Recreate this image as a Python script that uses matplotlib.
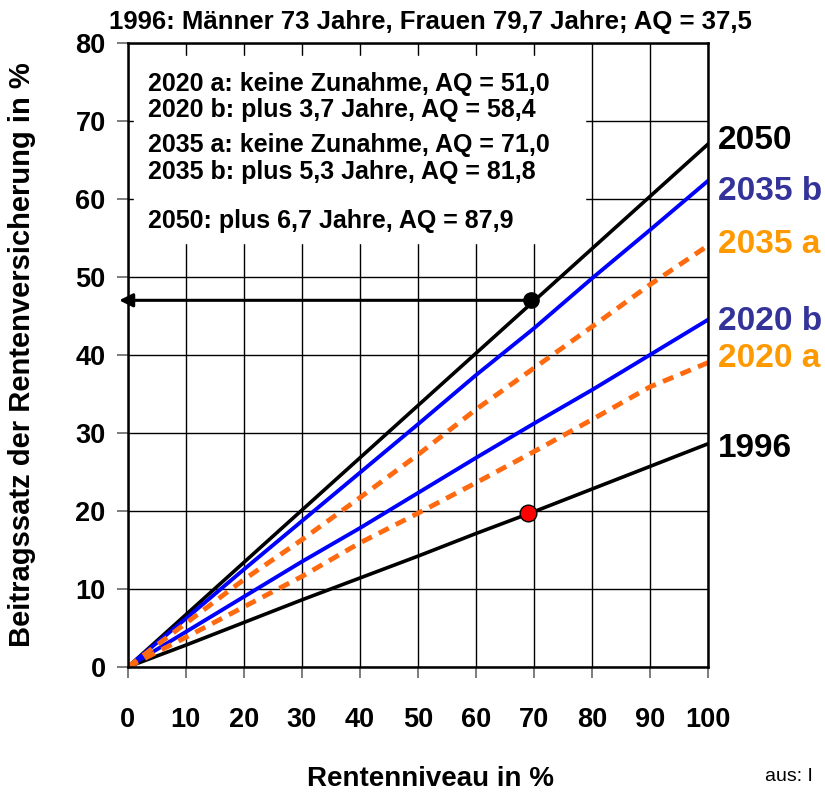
import numpy as np
import matplotlib
matplotlib.use('Agg')
import matplotlib.pyplot as plt

plt.rcParams['font.family'] = ['Liberation Sans', 'DejaVu Sans']

# Rentenniveau (x) und Beitragssatz (y) je Szenario
niveau = [0, 10, 20, 30, 40, 50, 60, 70, 80, 90, 100]
y_1996 = [0, 2.8, 5.7, 8.6, 11.4, 14.2, 17.1, 19.9, 22.8, 25.7, 28.6]
y_2020a = [0, 3.8, 7.7, 11.6, 15.9, 19.7, 23.6, 27.6, 31.7, 35.9, 39.0]
y_2020b = [0, 4.5, 9.0, 13.5, 17.8, 22.3, 26.8, 31.2, 35.5, 40.0, 44.5]
y_2035a = [0, 5.6, 11.2, 16.3, 21.7, 27.2, 33.0, 38.3, 43.6, 49.0, 54.0]
y_2035b = [0, 6.2, 12.5, 18.7, 24.9, 31.1, 37.4, 43.4, 49.8, 56.0, 62.3]
y_2050 = [0, 6.7, 13.4, 20.1, 26.8, 33.5, 40.2, 46.9, 53.6, 60.3, 67.0]

punkt_1996 = (69, 19.7)
punkt_2050 = (69.5, 47.0)

box_lines = ['2020 a: keine Zunahme, AQ = 51,0',
             '2020 b: plus 3,7 Jahre, AQ = 58,4',
             '2035 a: keine Zunahme, AQ = 71,0',
             '2035 b: plus 5,3 Jahre, AQ = 81,8',
             '2050: plus 6,7 Jahre, AQ = 87,9']
box_y = [74.7, 71.4, 66.9, 63.4, 57.2]

labels_right = ['2050', '2035 b', '2035 a', '2020 b', '2020 a', '1996']
labels_y = [67.5, 61.0, 54.1, 44.3, 39.5, 28.0]
labels_col = ['black', '#333399', '#FF9900', '#333399', '#FF9900', 'black']

fig = plt.figure(figsize=(8.25, 7.94), dpi=100)
ax = fig.add_axes([0.155, 0.160, 0.703, 0.786])

ax.set_xlim(0, 100)
ax.set_ylim(0, 80)
ax.set_xticks(np.arange(0, 101, 10))
ax.set_yticks(np.arange(0, 81, 10))
ax.set_axisbelow(True)
ax.grid(True, color='black', linewidth=1.0)
for s in ax.spines.values():
    s.set_linewidth(1.8)
    s.set_zorder(7)
ax.tick_params(axis='both', length=8, width=1.2, color='#666666', labelsize=19.5)
ax.tick_params(axis='x', pad=21)
ax.tick_params(axis='y', pad=8)
for t in ax.get_xticklabels() + ax.get_yticklabels():
    t.set_fontweight('bold')

# weisser Kasten fuer den Text
ax.fill_between([1, 78.8], 54.4, 78.3, color='white', zorder=1)

ax.plot(niveau, y_1996, color='black', lw=2.6, zorder=3)
ax.plot(niveau, y_2050, color='black', lw=2.6, zorder=3)
ax.plot(niveau, y_2035b, color='#0000FF', lw=2.8, zorder=3)
ax.plot(niveau, y_2020b, color='#0000FF', lw=2.8, zorder=3)
ax.plot(niveau, y_2035a, color='#FF6A10', lw=3.5, dashes=(2.3, 1.6), zorder=3)
ax.plot(niveau, y_2020a, color='#FF6A10', lw=3.5, dashes=(2.3, 1.6), zorder=3)

ax.annotate('', xy=(-1.5, punkt_2050[1]), xytext=punkt_2050,
            arrowprops=dict(arrowstyle='-|>', color='black', lw=2.2,
                            mutation_scale=20, shrinkA=0, shrinkB=0),
            annotation_clip=False, zorder=4)
ax.plot(*punkt_2050, 'o', color='black', ms=11, zorder=5)
ax.plot(*punkt_1996, 'o', color='red', mec='black', mew=1, ms=12, zorder=5)

for txt, yy in zip(box_lines, box_y):
    ax.text(3.5, yy, txt, fontsize=18, fontweight='bold', va='center', zorder=6)

for txt, yy, c in zip(labels_right, labels_y, labels_col):
    ax.text(101.8, yy, txt, fontsize=24, fontweight='bold', color=c,
            va='center', ha='left', clip_on=False)

fig.text(0.522, 0.972, '1996: Männer 73 Jahre, Frauen 79,7 Jahre; AQ = 37,5',
         fontsize=18.5, fontweight='bold', ha='center', va='center')
fig.text(0.522, 0.019, 'Rentenniveau in %', fontsize=20, fontweight='bold',
         ha='center', va='center')
fig.text(0.027, 0.553, 'Beitragssatz der Rentenversicherung in %', fontsize=21,
         fontweight='bold', rotation=90, ha='center', va='center')
fig.text(0.927, 0.022, 'aus: I', fontsize=14, ha='left', va='center')

fig.savefig('out.png', dpi=100)
